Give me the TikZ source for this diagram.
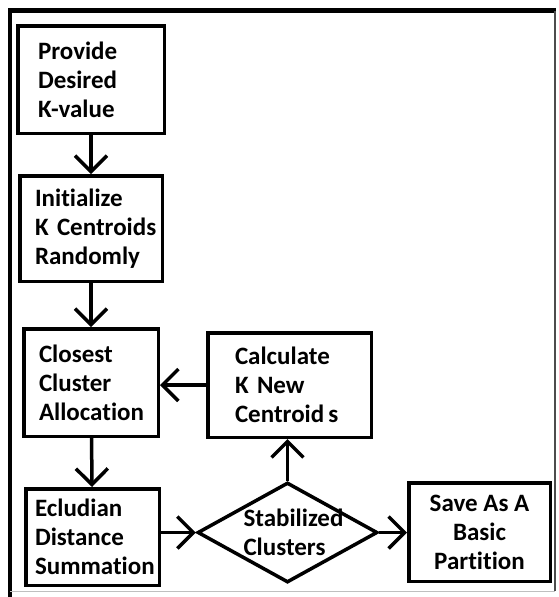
\documentclass[tikz,border=0pt]{standalone}
\usepackage{fontspec}
\setmainfont{Carlito}[Ligatures=NoCommon]
\usetikzlibrary{shapes.geometric,arrows.meta}

\begin{document}
\begin{tikzpicture}[x=1pt,y=-1pt,
    blok/.style={draw, line width=3.5pt, inner sep=0pt, align=left,
        font=\bfseries\fontsize{25}{29}\selectfont},
    ruit/.style={diamond, draw, line width=3.5pt, inner xsep=-20pt, inner ysep=-10pt,
        align=left, font=\bfseries\fontsize{25}{29}\selectfont},
    pijl/.style={line width=3.5pt, -{Straight Barb[length=16pt,width=32pt]}}]

    % Vaste afmetingen van de afbeelding
    \useasboundingbox (0,0) rectangle (558,597);

    % Teken het kader rond het schema
    \draw[line width=4.5pt] (10,597) -- (10,10.5) -- (556,10.5); % links en boven
    \draw[line width=2pt, black!70] (555,10.5) -- (555,591);     % rechts
    \draw[line width=1pt, black!25] (10,591) -- (555,591);        % onder

    % Teken de stappen van het algoritme
    \node[blok, minimum width=146.5pt, minimum height=107.5pt, text width=106pt]
        (waarde) at (91,79.5) {Provide\\Desired\\K-value};
    \node[blok, minimum width=142.5pt, minimum height=105.5pt, text width=112pt]
        (init) at (91,228.5) {Initialize\\\mbox{K Centroids}\\Randomly};
    \node[blok, minimum width=134.5pt, minimum height=107.5pt, text width=104pt]
        (toewijzing) at (91,382.5) {Closest\\Cluster\\Allocation};
    \node[blok, minimum width=133.5pt, minimum height=96.5pt, text width=115pt]
        (afstand) at (92.5,537) {Ecludian\\Distance\\Summation};
    \node[blok, minimum width=163.5pt, minimum height=104.5pt, text width=109pt]
        (centroide) at (289.5,385) {Calculate\\\mbox{K New}\\Centroid\,s};
    \node[ruit, minimum width=180pt, minimum height=100pt, text width=88pt]
        (stabiel) at (287.5,532.5) {\mbox{Stabilized}\\Clusters};
    \node[blok, minimum width=141.5pt, minimum height=98.5pt, align=center]
        (opslaan) at (479.5,532) {\mbox{Save As A}\\Basic\\Partition};

    % Teken de pijlen tussen de stappen
    \draw[pijl] (waarde) -- (init);
    \draw[pijl] (init) -- (toewijzing);
    \draw[pijl] (toewijzing) -- (afstand);
    \draw[pijl] (afstand.east |- stabiel.west) -- (stabiel.west);       % naar de beslissing
    \draw[pijl] (stabiel.north) -- (centroide.south -| stabiel.north);  % niet stabiel
    \draw[pijl] (centroide.west) -- (toewijzing.east |- centroide.west); % terug
    \draw[pijl] (stabiel.east) -- (opslaan.west |- stabiel.east);       % stabiel

\end{tikzpicture}
\end{document}
